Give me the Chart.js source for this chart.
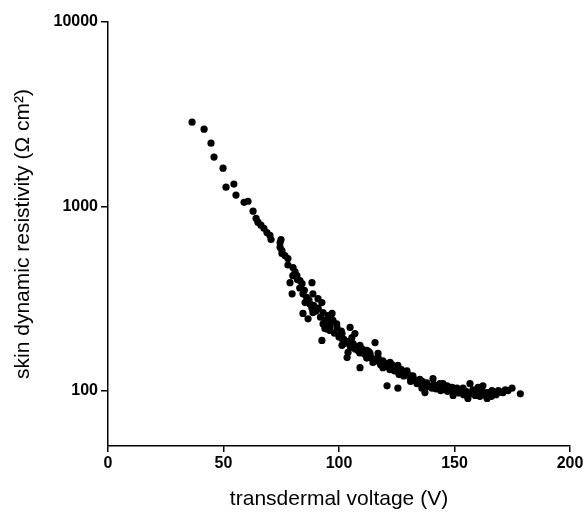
<!DOCTYPE html>
<html>
<head>
<meta charset="utf-8">
<script src="https://cdn.jsdelivr.net/npm/chart.js@4/dist/chart.umd.min.js"></script>
<style>
  html, body { margin: 0; padding: 0; background: #fff; }
  #box { width: 588px; height: 512px; }
</style>
</head>
<body>
<div id="box"><canvas id="grafico"></canvas></div>
<script>
// valores (tensao em V, resistividade em ohm cm2)
const voltage = [
  36.4, 41.6, 44.6, 45.9, 49.8, 51.1, 54.5, 55.4, 58.9, 60.6,
  62.8, 64.1, 64.9, 66.2, 67.5, 68.8, 70.1, 70.6, 74.9, 74.5,
  75.3, 76.6, 77.9, 74.5, 75.3, 77.9, 80.1, 81.0, 81.8, 78.8,
  83.1, 84.0, 88.3, 79.7, 84.4, 88.7, 85.3, 87.4, 90.9, 92.6,
  84.4, 88.3, 88.7, 86.6, 93.1, 95.2, 97.0, 97.4, 93.1, 93.9,
  96.1, 99.1, 104.8, 92.6, 100.4, 101.7, 105.6, 106.1, 101.3, 103.9,
  109.1, 112.1, 113.4, 115.6, 103.5, 106.9, 101.3, 102.6, 108.2, 109.1,
  111.3, 113.4, 114.7, 116.9, 117.7, 119.0, 122.1, 123.4, 125.5, 127.3,
  129.4, 130.7, 120.8, 125.5, 132.0, 133.8, 135.9, 138.1, 140.7, 140.3,
  143.7, 146.8, 148.9, 151.1, 149.4, 136.4, 142.4, 145.0, 148.1, 153.7,
  156.7, 158.0, 160.2, 162.3, 164.1, 166.2, 168.4, 171.0, 173.2, 174.9,
  178.5, 155.8, 164.1, 137.2,
  80, 82, 83, 85, 86, 87, 89, 90, 91, 92, 94, 95, 96,
  95, 96, 98, 99, 100, 101, 102, 104, 105, 106, 107, 108, 109, 110,
  111, 112, 113, 114, 115, 116, 117, 118, 119, 120, 121, 122, 123, 124,
  125, 126, 127, 128, 129, 130, 131, 132, 133, 134, 135, 136, 137, 138,
  139, 141, 142, 143, 144, 145, 146, 147, 149, 150, 151, 152, 153, 154,
  155, 157, 158, 159, 160, 161, 162, 163, 165, 166, 167, 168, 169, 170, 172
];
const resistivity = [
  2860, 2620, 2200, 1850, 1610, 1270, 1320, 1150, 1050, 1065,
  940, 860, 820, 790, 760, 720, 695, 660, 660, 600,
  575, 540, 520, 635, 555, 480, 465, 440, 420, 385,
  395, 380, 385, 335, 335, 335, 300, 295, 315, 300,
  262, 280, 265, 245, 265, 255, 262, 240, 230, 217,
  212, 220, 220, 187, 200, 187, 194, 180, 176, 161,
  176, 165, 159, 182, 151, 204, 204, 180, 165, 133,
  165, 155, 142, 159, 142, 133, 142, 133, 137, 125,
  128, 118, 106, 103, 116, 109, 103, 106, 116, 103,
  109, 106, 100, 103, 94, 109, 106, 109, 104, 103,
  109, 100, 104, 106, 97.5, 100, 97.5, 97.5, 100, 103,
  96, 90.5, 90.5, 97.5,
  420, 400, 360, 350, 320, 310, 290, 270, 280, 250, 240, 235, 240,
  215, 225, 205, 230, 195, 210, 190, 185, 172, 178, 168, 172, 160, 168,
  158, 150, 162, 150, 148, 145, 150, 138, 145, 140, 135, 130, 138, 128,
  132, 122, 130, 120, 124, 122, 112, 120, 114, 110, 115, 112, 108, 110,
  105, 108, 102, 104, 100, 104, 101, 99, 104, 98, 100, 97, 100, 95,
  99, 96, 101, 94, 97, 93, 99, 95, 96, 93, 98, 95, 100, 98, 101
];
const xTicks = [0, 50, 100, 150, 200];
const yTicks = [100, 1000, 10000];

const pontos = voltage.map((v, i) => ({ x: v, y: resistivity[i] }));

const fonteEixo = { family: "'Liberation Sans', Arial, sans-serif", size: 16, weight: 'bold' };
const fonteTitulo = { family: "'Liberation Sans', Arial, sans-serif", size: 21 };

const ctx = document.getElementById('grafico').getContext('2d');
const grafico = new Chart(ctx, {
  type: 'scatter',
  data: {
    datasets: [{
      data: pontos,
      backgroundColor: '#000',
      borderWidth: 0,
      pointRadius: 3.6,
      pointHoverRadius: 3.6
    }]
  },
  options: {
    responsive: true,
    maintainAspectRatio: false,
    animation: false,
    layout: { padding: { left: 0, right: 18, top: 22, bottom: 0 } },
    plugins: {
      legend: { display: false },
      tooltip: { enabled: false }
    },
    scales: {
      x: {
        type: 'linear',
        min: 0,
        max: 200,
        afterBuildTicks: (scale) => { scale.ticks = xTicks.map(v => ({ value: v })); },
        afterFit: (scale) => { scale.height = 66; },
        border: { display: true, color: '#000', width: 1.5 },
        grid: { drawOnChartArea: false, drawTicks: true, tickLength: 6, color: '#000', lineWidth: 1.5 },
        ticks: { color: '#000', font: fonteEixo, padding: 2, maxRotation: 0 },
        title: {
          display: true,
          text: 'transdermal voltage (V)',
          color: '#000',
          font: fonteTitulo,
          padding: { top: 0, bottom: 0 }
        }
      },
      y: {
        type: 'logarithmic',
        min: 50,
        max: 10000,
        afterBuildTicks: (scale) => { scale.ticks = yTicks.map(v => ({ value: v })); },
        afterFit: (scale) => { scale.width = 108; },
        border: { display: true, color: '#000', width: 1.5 },
        grid: { drawOnChartArea: false, drawTicks: true, tickLength: 7, color: '#000', lineWidth: 1.5 },
        ticks: {
          color: '#000',
          font: fonteEixo,
          padding: 3,
          callback: (valor) => String(valor)
        },
        title: {
          display: true,
          text: 'skin dynamic resistivity (Ω cm²)',
          color: '#000',
          font: fonteTitulo,
          padding: { top: 11, bottom: 0 }
        }
      }
    }
  }
});
</script>
</body>
</html>
